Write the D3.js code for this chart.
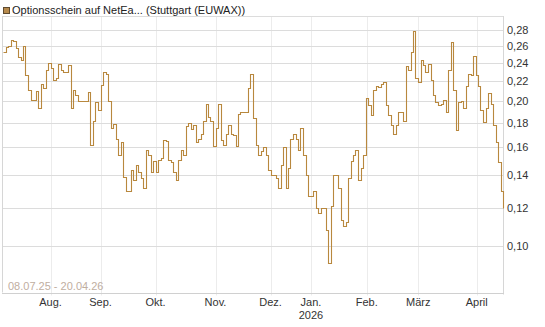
<!DOCTYPE html>
<html>
<head>
<meta charset="utf-8">
<script src="https://cdn.jsdelivr.net/npm/d3@7"></script>
<style>
  body { margin: 0; background: #fff; }
  svg { display: block; font-family: "Liberation Sans", Arial, sans-serif; }
</style>
</head>
<body>
<div class="plot"></div>
<script>
// GLOBAL VARIABLES

var w = 545;
var h = 327;

// plot box
var plotLeft = 3, plotRight = 503, plotTop = 16, plotBottom = 292.5;

// daily closing prices, 08.07.25 - 20.04.26 (one per trading day)
var prices = [
  0.253, 0.259, 0.260, 0.268, 0.266, 0.258, 0.247, 0.243, 0.260, 0.226,
  0.211, 0.201, 0.201, 0.210, 0.193, 0.217, 0.213, 0.232, 0.240, 0.234,
  0.221, 0.223, 0.239, 0.232, 0.230, 0.230, 0.237, 0.193, 0.211, 0.206,
  0.200, 0.200, 0.200, 0.200, 0.209, 0.162, 0.182, 0.199, 0.191, 0.216,
  0.230, 0.227, 0.200, 0.176, 0.179, 0.167, 0.154, 0.164, 0.139, 0.130,
  0.130, 0.144, 0.137, 0.147, 0.142, 0.138, 0.132, 0.158, 0.154, 0.142,
  0.150, 0.142, 0.151, 0.152, 0.166, 0.165, 0.151, 0.149, 0.142, 0.137,
  0.151, 0.158, 0.154, 0.177, 0.180, 0.175, 0.178, 0.164, 0.167, 0.171,
  0.182, 0.197, 0.185, 0.182, 0.161, 0.176, 0.197, 0.166, 0.162, 0.171,
  0.178, 0.171, 0.170, 0.161, 0.188, 0.190, 0.190, 0.190, 0.213, 0.227,
  0.184, 0.162, 0.154, 0.157, 0.160, 0.154, 0.144, 0.140, 0.140, 0.138,
  0.132, 0.147, 0.160, 0.132, 0.145, 0.167, 0.171, 0.167, 0.158, 0.176,
  0.154, 0.140, 0.127, 0.127, 0.130, 0.120, 0.117, 0.120, 0.120, 0.108,
  0.092, 0.121, 0.140, 0.140, 0.132, 0.113, 0.110, 0.112, 0.138, 0.150,
  0.154, 0.158, 0.137, 0.145, 0.154, 0.203, 0.196, 0.187, 0.211, 0.215,
  0.214, 0.217, 0.219, 0.196, 0.187, 0.178, 0.171, 0.178, 0.190, 0.190,
  0.182, 0.236, 0.232, 0.253, 0.279, 0.223, 0.219, 0.243, 0.237, 0.230,
  0.239, 0.221, 0.206, 0.199, 0.196, 0.197, 0.201, 0.190, 0.232, 0.265,
  0.211, 0.174, 0.199, 0.200, 0.193, 0.215, 0.227, 0.226, 0.248, 0.226,
  0.215, 0.191, 0.181, 0.193, 0.208, 0.197, 0.178, 0.164, 0.149, 0.130,
  0.120
];

// month ticks (position in trading days from start)
var monthLabels = ["Aug.", "Sep.", "Okt.", "Nov.", "Dez.", "Jan.", "Feb.", "März", "April"];
var monthIndex = [19, 39, 61, 85, 107, 123.2, 145.5, 166.1, 189.5];

// y ticks
var yTicks = [0.10, 0.12, 0.14, 0.16, 0.18, 0.20, 0.22, 0.24, 0.26, 0.28];
var yGrid = [0.10, 0.12, 0.14, 0.16, 0.18, 0.20, 0.22, 0.24, 0.26, 0.28, 0.30];

var title = "Optionsschein auf NetEa... (Stuttgart (EUWAX))";
var range = "08.07.25 - 20.04.26";

var lineColor = "#b8883e";

var svg = d3.select(".plot").append("svg").attr("width", w).attr("height", h);

// SCALES
var xScale = d3.scaleLinear()
  .domain([0, prices.length - 1])
  .range([plotLeft, plotRight]);
var yScale = d3.scaleLog()
  .domain([0.08, 0.30])
  .range([plotBottom, plotTop]);

// GRID
svg.append("g")
  .selectAll("line")
  .data(monthIndex)
  .enter()
  .append("line")
  .attr("x1", function (d) { return Math.round(xScale(d)) + 0.5; })
  .attr("x2", function (d) { return Math.round(xScale(d)) + 0.5; })
  .attr("y1", plotTop)
  .attr("y2", plotBottom + 3)
  .attr("stroke", "#ececec");

svg.append("g")
  .selectAll("line")
  .data(yGrid)
  .enter()
  .append("line")
  .attr("x1", plotLeft)
  .attr("x2", plotRight)
  .attr("y1", function (d) { return Math.round(yScale(d)) + 0.5; })
  .attr("y2", function (d) { return Math.round(yScale(d)) + 0.5; })
  .attr("stroke", "#dcdcdc");

// frame: left, right, bottom
svg.append("line")
  .attr("x1", plotLeft - 0.5).attr("x2", plotLeft - 0.5)
  .attr("y1", plotTop).attr("y2", plotBottom)
  .attr("stroke", "#d6d6d6");
svg.append("line")
  .attr("x1", plotRight + 0.5).attr("x2", plotRight + 0.5)
  .attr("y1", plotTop).attr("y2", plotBottom + 2)
  .attr("stroke", "#d6d6d6");
svg.append("line")
  .attr("x1", plotLeft - 1).attr("x2", plotRight + 1)
  .attr("y1", Math.round(plotBottom) + 0.5).attr("y2", Math.round(plotBottom) + 0.5)
  .attr("stroke", "#d0d0d0");

// date range label
svg.append("text")
  .attr("x", 8)
  .attr("y", 290)
  .attr("font-size", "11px")
  .attr("fill", "#bfae9f")
  .text(range);

// LINE
var line = d3.line()
  .x(function (d, i) { return Math.round(xScale(i)) + 0.5; })
  .y(function (d) { return Math.round(yScale(d)) + 0.5; })
  .curve(d3.curveStepAfter);

svg.append("path")
  .datum(prices)
  .attr("d", line)
  .attr("fill", "none")
  .attr("stroke", lineColor)
  .attr("stroke-width", 1.1);

// Y AXIS (right)
svg.append("g")
  .selectAll("text")
  .data(yTicks)
  .enter()
  .append("text")
  .attr("x", 507)
  .attr("y", function (d) { return yScale(d) + 4; })
  .attr("font-size", "11px")
  .attr("fill", "#333")
  .text(function (d) { return d3.format(".2f")(d).replace(".", ","); });

// X AXIS labels
svg.append("g")
  .selectAll("text")
  .data(monthIndex)
  .enter()
  .append("text")
  .attr("x", function (d) { return xScale(d); })
  .attr("y", 306)
  .attr("font-size", "11px")
  .attr("fill", "#333")
  .style("text-anchor", "middle")
  .text(function (d, i) { return monthLabels[i]; });

svg.append("text")
  .attr("x", xScale(monthIndex[5]))
  .attr("y", 319)
  .attr("font-size", "11px")
  .attr("fill", "#333")
  .style("text-anchor", "middle")
  .text("2026");

// LEGEND
svg.append("rect")
  .attr("x", 3.5)
  .attr("y", 7.5)
  .attr("width", 6)
  .attr("height", 6)
  .attr("fill", "#b78a4c")
  .attr("stroke", "#5e4a30");

svg.append("text")
  .attr("x", 12)
  .attr("y", 14)
  .attr("font-size", "11px")
  .attr("fill", "#222")
  .text(title);
</script>
</body>
</html>
